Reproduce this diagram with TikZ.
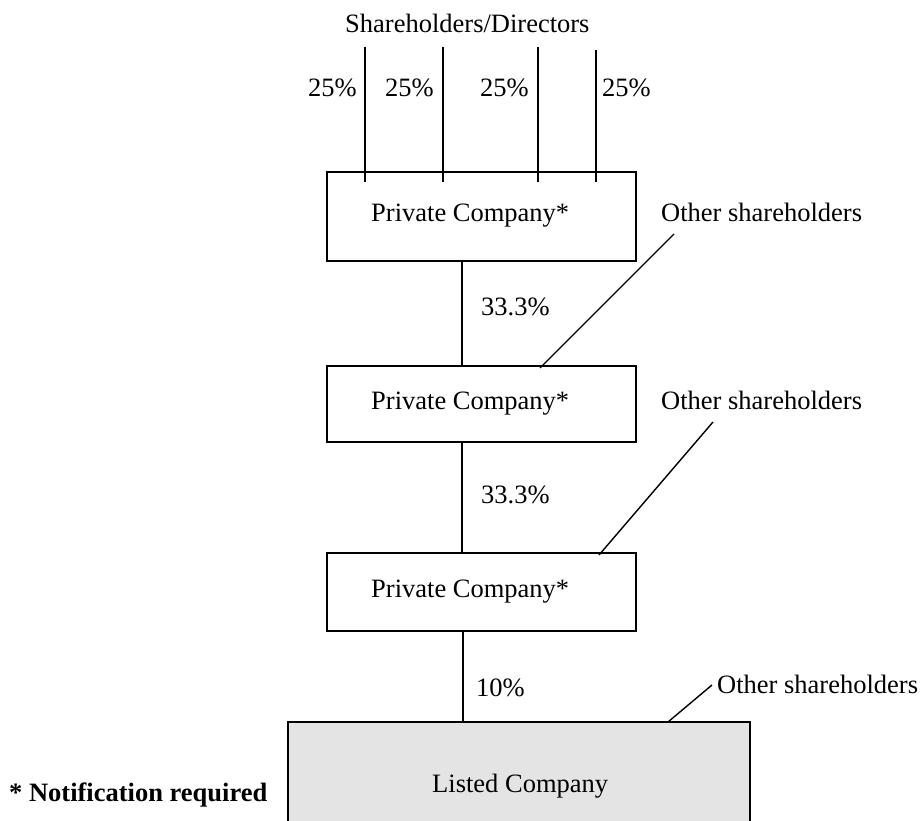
\documentclass[tikz,border=0pt]{standalone}
\usepackage{fontspec}
\setmainfont{Liberation Serif}
\definecolor{listedgray}{RGB}{228,228,228}
\begin{document}
\begin{tikzpicture}[x=1pt,y=-1pt,
  every node/.style={font=\fontsize{26.5}{30}\selectfont},
  txt/.style={inner sep=0pt,anchor=base west},
  box/.style={draw,line width=1.5pt,rectangle,inner sep=0pt},
  conn/.style={line width=1.4pt}]
\useasboundingbox (0,0) rectangle (924,821);
% boxes
\node[box,minimum width=309pt,minimum height=89pt] (pc1) at (481.5,216.5) {};
\node[box,minimum width=309pt,minimum height=76pt] (pc2) at (481.5,404) {};
\node[box,minimum width=309pt,minimum height=78pt] (pc3) at (481.5,592) {};
\begin{scope}
\clip (0,0) rectangle (924,821);
\node[box,fill=listedgray,minimum width=462pt,minimum height=122pt] (lc) at (519,783) {};
\end{scope}
% texts
\node[txt] (sd) at (345,33) {Shareholders/Directors};
\node[txt] (p1) at (308,97) {25\%};
\node[txt] (p2) at (385,97) {25\%};
\node[txt] (p3) at (480,97) {25\%};
\node[txt] (p4) at (602,97) {25\%};
\node[txt] (t1) at (371,222) {Private Company*};
\node[txt] (t2) at (371,409) {Private Company*};
\node[txt] (t3) at (371,597) {Private Company*};
\node[txt] (tl) at (432,792) {Listed Company};
\node[txt] (o1) at (661,222) {Other shareholders};
\node[txt] (o2) at (661,409) {Other shareholders};
\node[txt] (o3) at (717,693) {Other shareholders};
\node[txt] (s1) at (481,316) {33.3\%};
\node[txt] (s2) at (481,503) {33.3\%};
\node[txt] (s3) at (476,696) {10\%};
\node[txt,font=\fontsize{26.5}{30}\selectfont\bfseries] (note) at (9,801) {* Notification required};
% shareholder lines
\coordinate (a1) at (365,47);
\coordinate (a2) at (443,47);
\coordinate (a3) at (538,47);
\coordinate (a4) at (596,50);
\foreach \i/\x in {1/365,2/443,3/538,4/596}
  \draw[conn] (a\i) -- (\x,182);
% vertical connectors
\draw[conn] (pc1.south -| 462,0) -- (pc2.north -| 462,0);
\draw[conn] (pc2.south -| 462,0) -- (pc3.north -| 462,0);
\draw[conn] (pc3.south -| 463,0) -- (lc.north -| 463,0);
% leader lines
\coordinate (l1) at (674,234);
\coordinate (l2) at (713,422);
\coordinate (l3) at (712,685);
\draw[conn] (l1) -- (540,368);
\draw[conn] (l2) -- (599,555);
\draw[conn] (l3) -- (668,722);
\end{tikzpicture}
\end{document}
